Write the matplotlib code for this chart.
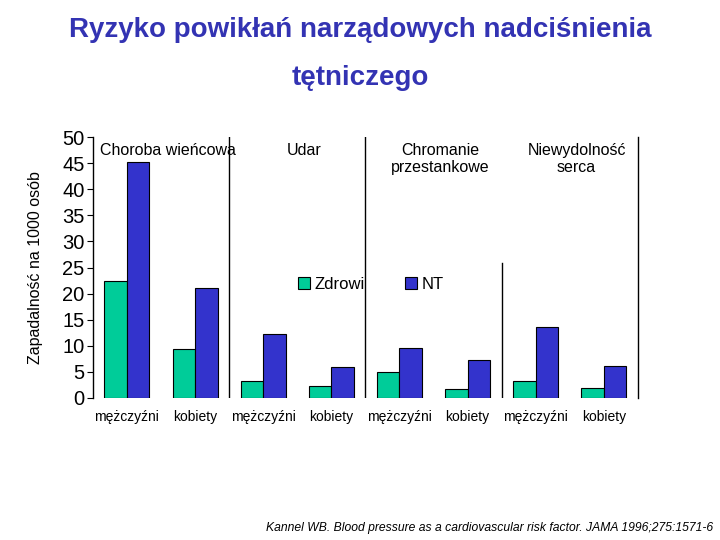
import matplotlib
matplotlib.use("Agg")
import matplotlib.pyplot as plt
import numpy as np

plt.rcParams['font.family'] = ['Liberation Sans', 'DejaVu Sans']

groups = ["Choroba wieńcowa", "Udar", "Chromanie\nprzestankowe", "Niewydolność\nserca"]
sexes = ["mężczyźni", "kobiety"]
series_names = ["Zdrowi", "NT"]
zdrowi = [22.5, 9.3, 3.2, 2.3, 4.9, 1.8, 3.2, 2.0]
nt = [45.2, 21.1, 12.3, 6.0, 9.6, 7.2, 13.6, 6.1]
yticks = list(range(0, 51, 5))

green = "#00CC99"
blue = "#3333CC"
title_color = "#3333B3"

fig = plt.figure(figsize=(7.2, 5.4), dpi=100)
ax = fig.add_axes([0.129, 0.263, 0.757, 0.483])

n = len(zdrowi)
x = np.arange(n)
w = 0.33
ax.bar(x - w / 2, zdrowi, w, color=green, edgecolor="black", linewidth=0.8, label=series_names[0])
ax.bar(x + w / 2, nt, w, color=blue, edgecolor="black", linewidth=0.8, label=series_names[1])

ax.set_xlim(-0.5, n - 0.5)
ax.set_ylim(0, 50)
ax.set_yticks(yticks)
ax.set_yticklabels([str(t) for t in yticks], fontsize=14.5)
ax.tick_params(axis='y', length=4, width=0.8, pad=2)
ax.set_xticks(x)
ax.set_xticklabels(sexes * 4, fontsize=10)
ax.tick_params(axis='x', length=0, pad=9)
for s in ["top", "right", "bottom"]:
    ax.spines[s].set_visible(False)
ax.spines["left"].set_linewidth(1.0)

# group separators
ax.axvline(1.5, color="black", lw=1.0)
ax.axvline(3.5, color="black", lw=1.0)
ax.plot([5.5, 5.5], [0, 25.8], color="black", lw=1.0)
ax.axvline(7.5, color="black", lw=1.0, clip_on=False)

# group titles
for i, g in enumerate(groups):
    ax.text(2 * i + 0.5 + 0.1, 48.8, g, ha="center", va="top", fontsize=11.5, linespacing=1.1)

ax.set_ylabel("Zapadalność na 1000 osób", fontsize=11.5, labelpad=14)

ax.legend(loc="center", bbox_to_anchor=(0.51, 0.435), ncol=2, frameon=False,
          fontsize=12, handlelength=0.7, handleheight=0.7, columnspacing=2.4,
          handletextpad=0.3)

fig.text(0.5, 0.945, "Ryzyko powikłań narządowych nadciśnienia", ha="center", va="center",
         fontsize=20, fontweight="bold", color=title_color)
fig.text(0.5, 0.855, "tętniczego", ha="center", va="center",
         fontsize=20, fontweight="bold", color=title_color)

fig.text(0.99, 0.022, "Kannel WB. Blood pressure as a cardiovascular risk factor. JAMA 1996;275:1571-6",
         ha="right", va="center", fontsize=8.7, style="italic")

fig.savefig("out.png", dpi=100)
